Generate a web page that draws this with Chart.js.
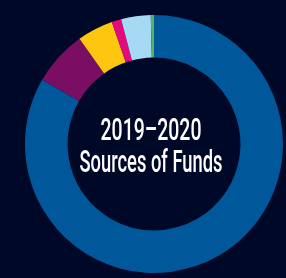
<!DOCTYPE html>
<html lang="en">
<head>
    <meta charset="UTF-8">
    <title>Sources of Funds 2019-2020</title>
    <script src="https://cdn.jsdelivr.net/npm/chart.js"></script>
    <style>
        html, body { margin: 0; padding: 0; background: #000828; }
        #wrap { width: 286px; height: 278px; }
    </style>
</head>
<body>
    <div id="wrap">
        <canvas id="fundsChart" width="286" height="278"></canvas>
    </div>

<script>
    // shares of total funding, clockwise from the top
    var categories = ['Main source', 'Source 2', 'Source 3', 'Source 4', 'Source 5', 'Source 6'];
    var shares = [83.3, 6.9, 4.5, 1.2, 3.7, 0.4];
    var colors = ['#00589a', '#790e62', '#fec70f', '#e5097f', '#a6d9f4', '#58b45c'];
    var titleLines = ['2019\u20132020', 'Sources of Funds'];
    var titleWidths = [101, 143]; // how wide each line reads in the original

    // draws the title in the hole, squeezed to look like a condensed face
    const centerText = {
        id: 'centerText',
        afterDraw(chart) {
            const ctx = chart.ctx;
            const meta = chart.getDatasetMeta(0).data[0];
            const cx = meta.x - 3, cy = meta.y;
            const baselines = [-4, 27.5];
            ctx.save();
            ctx.fillStyle = '#ffffff';
            ctx.textAlign = 'center';
            ctx.textBaseline = 'alphabetic';
            ctx.font = '500 31px Roboto, sans-serif';
            for (let i = 0; i < titleLines.length; i++) {
                const w = ctx.measureText(titleLines[i]).width;
                ctx.save();
                ctx.translate(cx, cy + baselines[i]);
                ctx.scale(titleWidths[i] / w, 1);
                ctx.fillText(titleLines[i], 0, 0);
                ctx.restore();
            }
            ctx.restore();
        }
    };

    const ctx = document.getElementById('fundsChart').getContext('2d');
    const myChart = new Chart(ctx, {
        type: 'doughnut',
        data: {
            labels: categories,
            datasets: [{
                data: shares,
                backgroundColor: colors,
                borderWidth: 0
            }]
        },
        options: {
            responsive: false,
            animation: false,
            cutout: '67%',
            layout: {
                padding: { left: 25, right: 3, top: 15, bottom: 5 }
            },
            plugins: {
                legend: { display: false },
                tooltip: { enabled: false }
            }
        },
        plugins: [centerText]
    });
</script>
</body>
</html>
